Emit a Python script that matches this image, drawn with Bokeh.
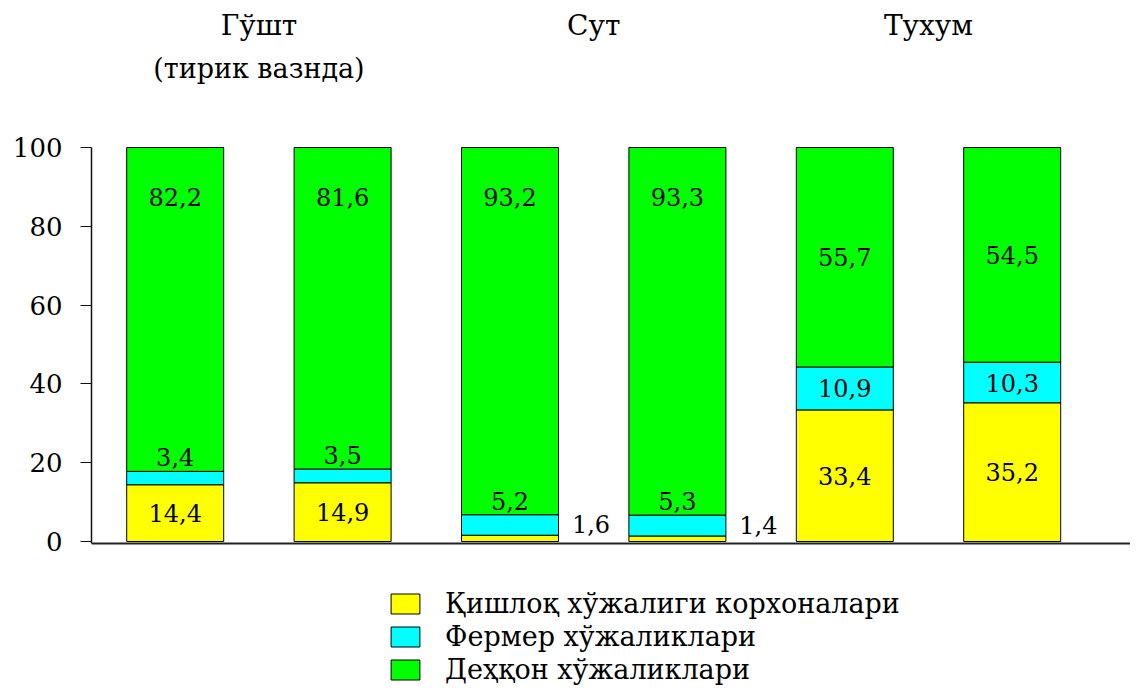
import numpy as np
from bokeh.plotting import figure
from bokeh.models import ColumnDataSource, Range1d, FixedTicker, Legend, LegendItem, Span
from bokeh.core.properties import value
from bokeh.embed import file_html
from bokeh.resources import INLINE

# ---------------- data ----------------
groups = ["Гўшт", "Сут", "Тухум"]
subtitles = ["(тирик вазнда)", "", ""]
bars_per_group = 2
series = ["Қишлоқ хўжалиги корхоналари", "Фермер хўжаликлари", "Деҳқон хўжаликлари"]
colors = ["#FFFF00", "#00FFFF", "#00FF00"]
korxona = [14.4, 14.9, 1.6, 1.4, 33.4, 35.2]
fermer = [3.4, 3.5, 5.2, 5.3, 10.9, 10.3]
dehqon = [82.2, 81.6, 93.2, 93.3, 55.7, 54.5]
y_ticks = [0, 20, 40, 60, 80, 100]

FONT = "DejaVu Serif"


def fmt(v):
    return f"{v:.1f}".replace(".", ",")


# ---------------- layout ----------------
W, H = 1130, 685
LEFT = 91
PX_Y = 3.94          # pixels per percent
ZERO_FROM_TOP = 541  # canvas pixel of y=0
PX_X = 167.4         # pixels per bar slot
y_end = ZERO_FROM_TOP / PX_Y
y_start = -(H - ZERO_FROM_TOP) / PX_Y
x_end = (W - LEFT) / PX_X
bar_w = 97 / PX_X

n = len(korxona)
xs = np.arange(n) + 0.5

src = ColumnDataSource(dict(x=xs, k=korxona, f=fermer, d=dehqon))

p = figure(width=W, height=H, x_range=Range1d(0, x_end), y_range=Range1d(y_start, y_end),
           output_backend="svg", toolbar_location=None, x_axis_location=None,
           min_border_left=LEFT, min_border_right=0, min_border_top=0, min_border_bottom=0,
           outline_line_color=None, background_fill_color="white")
p.xgrid.visible = False
p.ygrid.visible = False

rs = p.vbar_stack(["k", "f", "d"], x="x", width=bar_w, source=src,
                  color=colors, line_color="black", line_width=1)

# baseline
p.add_layout(Span(location=-0.5, dimension="width", line_color="#222222", line_width=2))

# y axis
ax = p.yaxis[0]
ax.bounds = (-0.5, 100)
ax.ticker = FixedTicker(ticks=y_ticks)
ax.major_tick_out = 11
ax.major_tick_in = 0
ax.minor_tick_out = 0
ax.minor_tick_in = 0
ax.axis_line_width = 1.5
ax.axis_line_color = "#111111"
ax.major_tick_line_color = "#111111"
ax.major_label_text_font = FONT
ax.major_label_text_font_size = "26px"
ax.major_label_text_color = "black"
ax.major_label_standoff = 18

# ---------------- value labels ----------------
cx, cy, ct = [], [], []
lx, ly, lt = [], [], []
for i in range(n):
    k, f, d = korxona[i], fermer[i], dehqon[i]
    if k >= 5:
        cx.append(xs[i]); cy.append(k / 2); ct.append(fmt(k))
    else:
        lx.append(xs[i] + 0.37); ly.append(k + 2.8); lt.append(fmt(k))
    if f >= 8:
        cx.append(xs[i]); cy.append(k + f / 2); ct.append(fmt(f))
    else:
        cx.append(xs[i]); cy.append(k + f + 3.6); ct.append(fmt(f))
    cx.append(xs[i]); cy.append(87.5 if d > 70 else k + f + d / 2); ct.append(fmt(d))

p.text(x=cx, y=cy, text=ct, text_font=value(FONT), text_font_size="24px",
       text_align="center", text_baseline="middle", text_color="black")
p.text(x=lx, y=ly, text=lt, text_font=value(FONT), text_font_size="24px",
       text_align="left", text_baseline="middle", text_color="black")

# ---------------- group titles ----------------
gx = [bars_per_group * g + bars_per_group / 2 for g in range(len(groups))]
p.text(x=gx, y=[131] * len(groups), text=groups, text_font=value(FONT), text_font_size="28px",
       text_align="center", text_baseline="middle", text_color="black")
p.text(x=gx, y=[120] * len(groups), text=subtitles, text_font=value(FONT), text_font_size="27px",
       text_align="center", text_baseline="middle", text_color="black")

# ---------------- legend ----------------
legend = Legend(items=[LegendItem(label=s, renderers=[r]) for s, r in zip(series, rs)],
                location=(296, 0), padding=0, margin=0, spacing=2,
                glyph_width=36, glyph_height=25, label_height=25, label_standoff=22,
                label_text_font=FONT, label_text_font_size="27px", label_text_color="black",
                border_line_alpha=0, background_fill_alpha=0)
p.add_layout(legend)

open("out.html", "w").write(file_html(p, INLINE))
